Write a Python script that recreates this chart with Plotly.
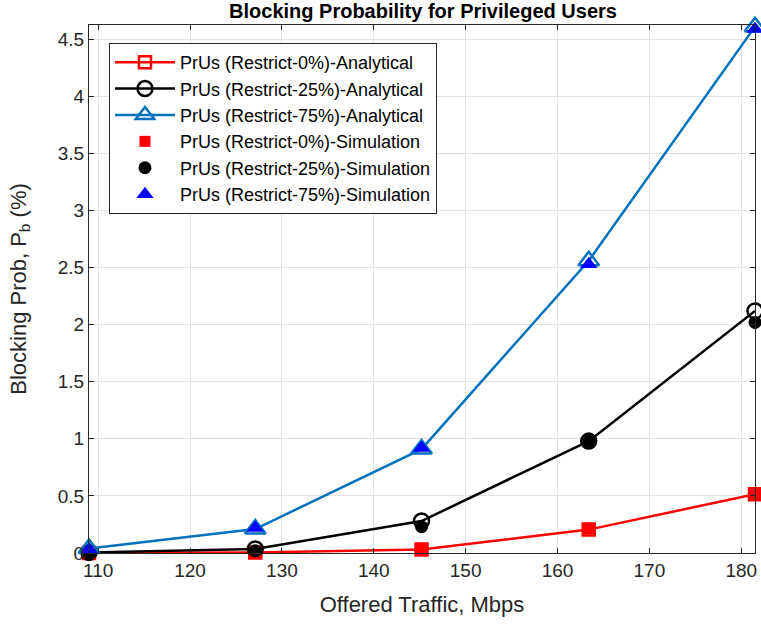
import plotly.graph_objects as go

# offered traffic (Mbps)
traffic = [109, 127.1, 145.2, 163.4, 181.5]

# analytical blocking probability (%)
ana_r0 = [0.0, 0.005, 0.03, 0.205, 0.515]
ana_r25 = [0.005, 0.035, 0.28, 0.98, 2.12]
ana_r75 = [0.04, 0.21, 0.91, 2.56, 4.61]

# simulation blocking probability (%)
sim_r0 = [0.0, 0.0, 0.03, 0.21, 0.52]
sim_r25 = [0.0, 0.02, 0.23, 0.98, 2.02]
sim_r75 = [0.03, 0.22, 0.92, 2.53, 4.59]

font = "Liberation Sans, Arial, Helvetica, sans-serif"
txt = "#262626"

fig = go.Figure()

fig.add_trace(go.Scatter(x=traffic, y=ana_r0, mode="lines+markers",
                         name="PrUs (Restrict-0%)-Analytical",
                         line=dict(color="#ff0000", width=2.5),
                         marker=dict(symbol="square-open", size=12,
                                     line=dict(width=2.5, color="#ff0000"))))
fig.add_trace(go.Scatter(x=traffic, y=ana_r25, mode="lines+markers",
                         name="PrUs (Restrict-25%)-Analytical",
                         line=dict(color="#000000", width=2.5),
                         marker=dict(symbol="circle-open", size=15,
                                     line=dict(width=2.5, color="#000000"))))
fig.add_trace(go.Scatter(x=traffic, y=ana_r75, mode="lines+markers",
                         name="PrUs (Restrict-75%)-Analytical",
                         line=dict(color="#0072bd", width=2.5),
                         marker=dict(symbol="triangle-up-open", size=18,
                                     line=dict(width=2.5, color="#0072bd"))))

fig.add_trace(go.Scatter(x=traffic, y=sim_r0, mode="markers",
                         name="PrUs (Restrict-0%)-Simulation",
                         marker=dict(symbol="square", size=11, color="#ff0000")))
fig.add_trace(go.Scatter(x=traffic, y=sim_r25, mode="markers",
                         name="PrUs (Restrict-25%)-Simulation",
                         marker=dict(symbol="circle", size=13, color="#000000")))
fig.add_trace(go.Scatter(x=traffic, y=sim_r75, mode="markers",
                         name="PrUs (Restrict-75%)-Simulation",
                         marker=dict(symbol="triangle-up", size=15, color="#0000ff")))

for tr in fig.data:
    tr.cliponaxis = False

fig.update_layout(
    width=761, height=626,
    margin=dict(l=89, r=4, t=25, b=73),
    paper_bgcolor="white", plot_bgcolor="white",
    font=dict(family=font, size=19, color=txt),
    title=dict(text="<b>Blocking Probability for Privileged Users</b>",
               x=(89 + 757) / 2 / 761, xanchor="center",
               y=1 - 11 / 626, yanchor="middle",
               font=dict(size=20, color="#000000")),
    showlegend=True,
    legend=dict(x=0.03, y=0.966, xanchor="left", yanchor="top",
                bgcolor="white", bordercolor=txt, borderwidth=1,
                font=dict(size=18, color="#000000"),
                itemwidth=60, tracegroupgap=0),
    xaxis=dict(range=[109, 181.5], tickvals=[110, 120, 130, 140, 150, 160, 170, 180],
               showgrid=True, gridcolor="#e3e3e3", gridwidth=1,
               showline=True, linecolor=txt, linewidth=1, mirror="ticks",
               ticks="inside", ticklen=5, tickcolor=txt,
               zeroline=False,
               title=dict(text="Offered Traffic, Mbps", font=dict(size=22), standoff=16)),
    yaxis=dict(range=[0, 4.625], dtick=0.5, tick0=0,
               showgrid=True, gridcolor="#e3e3e3", gridwidth=1,
               showline=True, linecolor=txt, linewidth=1, mirror="ticks",
               ticks="inside", ticklen=5, tickcolor=txt,
               zeroline=False,
               title=dict(text="Blocking Prob, P<sub>b</sub> (%)", font=dict(size=22), standoff=25)),
)

# the page body has a default 8px margin; drop it so the figure sits at 0,0
fig.write_html("out.html", config={"displayModeBar": False},
               post_script="document.body.style.margin='0';")
